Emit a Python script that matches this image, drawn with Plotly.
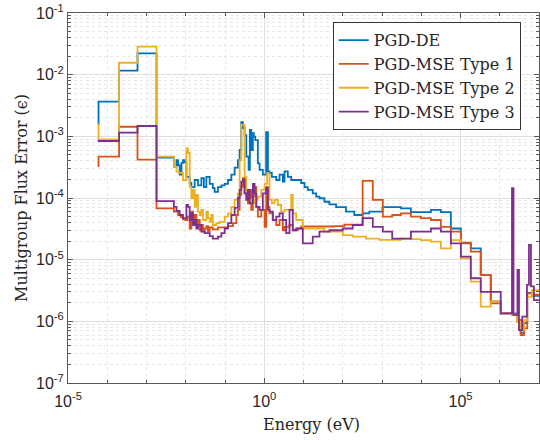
import plotly.graph_objects as go

# Multigroup flux error per energy group, drawn as stairs (left bin edges + values).
energy_de = [5.7e-5, 6.0e-5, 2.0e-4, 5.9e-4, 1.8e-3, 5.0e-3, 5.8e-3, 6.4e-3, 7.0e-3, 7.8e-3,
             8.5e-3, 9.4e-3, 1.04e-2, 1.26e-2, 1.39e-2, 1.69e-2, 2.05e-2, 2.5e-2, 2.9e-2, 3.35e-2,
             4.07e-2, 4.9e-2, 5.45e-2, 6.6e-2, 8.1e-2, 9.8e-2, 0.119, 0.145, 0.176, 0.213,
             0.236, 0.26, 0.286, 0.316, 0.349, 0.40, 0.43, 0.467, 0.513, 0.544,
             0.59, 0.687, 0.76, 0.92, 1.12, 1.24, 1.36, 1.56, 2.02, 2.45,
             2.97, 3.28, 3.98, 4.86, 8.72, 10.6, 12.8, 17.2, 21, 25.5,
             34.1, 45.7, 67.6, 121, 197, 321, 475, 1.03e3, 3.04e3, 5.45e3,
             1.76e4, 3.16e4, 5.67e4, 1.02e5, 1.83e5, 3.28e5, 5.9e5, 1.06e6, 2.75e6, 3.41e6,
             4.14e6, 5.02e6, 6.61e6, 1.0e7]
error_de = [1.58e-3, 3.65e-3, 1.16e-2, 2.22e-2, 4.5e-4, 3.2e-4, 4.1e-4, 3.4e-4, 2.4e-4, 3.7e-4,
            4.1e-4, 3.8e-4, 2.2e-4, 1.75e-4, 1.5e-4, 1.96e-4, 1.6e-4, 2.1e-4, 1.5e-4, 2.2e-4,
            1.7e-4, 1.45e-4, 1.26e-4, 1.5e-4, 1.6e-4, 1.7e-4, 1.96e-4, 2.4e-4, 3.1e-4, 4.1e-4,
            6.0e-4, 1.7e-3, 1.36e-3, 1.05e-3, 4.7e-4, 2.85e-4, 1.27e-3, 6.0e-4, 1.13e-3, 9.9e-4,
            8.7e-4, 3.65e-4, 2.85e-4, 2.4e-4, 1.17e-3, 2.7e-4, 2.55e-4, 2.2e-4, 1.96e-4, 2.4e-4,
            1.84e-4, 2.7e-4, 2.2e-4, 1.96e-4, 1.75e-4, 1.5e-4, 1.35e-4, 1.19e-4, 1.05e-4, 9.9e-5,
            8.7e-5, 7.9e-5, 7.1e-5, 6.0e-5, 5.3e-5, 5.65e-5, 6.0e-5, 7.1e-5, 6.8e-5, 5.9e-5,
            6.4e-5, 5.9e-5, 3.2e-5, 1.84e-5, 1.53e-5, 5.6e-6, 2.1e-6, 1.35e-6, 1.05e-6, 6.5e-7,
            9.4e-7, 2.9e-6, 2.6e-6]

energy_t1 = [5.7e-5, 6.0e-5, 2.0e-4, 5.9e-4, 1.8e-3, 5.0e-3, 6.4e-3, 7.45e-3, 8.5e-3, 9.8e-3,
             1.1e-2, 1.26e-2, 1.39e-2, 1.53e-2, 1.69e-2, 1.87e-2, 2.05e-2, 2.27e-2, 2.5e-2, 2.75e-2,
             3.04e-2, 3.35e-2, 3.68e-2, 4.07e-2, 4.9e-2, 6.6e-2, 0.119, 0.159, 0.194, 0.213,
             0.236, 0.26, 0.286, 0.316, 0.383, 0.423, 0.467, 0.513, 0.567, 0.626,
             0.687, 0.839, 1.02, 1.12, 1.24, 1.36, 1.65, 2.02, 2.45, 2.97,
             3.28, 4.4, 5.33, 7.15, 8.72, 61.2, 110, 321, 583, 1.05e3,
             1.82e3, 3.04e3, 5.45e3, 9.8e3, 1.76e4, 3.16e4, 5.67e4, 1.02e5, 1.83e5, 3.28e5,
             5.9e5, 1.06e6, 2.05e6, 2.75e6, 3.41e6, 4.14e6, 5.02e6, 6.61e6, 1.0e7]
error_t1 = [3.3e-4, 4.7e-4, 1.43e-3, 4.2e-4, 6.8e-5, 6.0e-5, 5.3e-5, 4.9e-5, 4.5e-5, 4.4e-5,
            5.0e-5, 3.2e-5, 6.0e-5, 3.9e-5, 5.3e-5, 3.35e-5, 4.4e-5, 3.0e-5, 3.65e-5, 2.85e-5,
            3.2e-5, 3.5e-5, 2.85e-5, 3.35e-5, 3.1e-5, 3.35e-5, 3.5e-5, 3.9e-5, 5.3e-5, 6.4e-5,
            1.12e-4, 1.52e-4, 2.1e-4, 1.19e-4, 8.2e-5, 1.35e-4, 6.4e-5, 1.05e-4, 1.52e-4, 7.2e-5,
            5.0e-5, 6.4e-5, 3.4e-5, 1.52e-4, 7.2e-5, 5.65e-5, 4.4e-5, 3.65e-5, 4.4e-5, 3.0e-5,
            3.4e-5, 3.65e-5, 3.0e-5, 3.2e-5, 3.45e-5, 3.5e-5, 3.7e-5, 1.89e-4, 9.3e-5, 5.0e-5,
            5.3e-5, 5.65e-5, 5.0e-5, 4.7e-5, 4.4e-5, 3.4e-5, 2.85e-5, 1.88e-5, 1.35e-5, 5.6e-6,
            1.96e-6, 1.35e-6, 1.27e-6, 1.05e-6, 6.0e-7, 7.7e-7, 2.85e-6, 2.7e-6]

energy_t2 = [5.7e-5, 6.0e-5, 2.0e-4, 5.9e-4, 1.8e-3, 5.0e-3, 5.8e-3, 6.6e-3, 8.5e-3, 1.04e-2,
             1.14e-2, 1.26e-2, 1.39e-2, 1.53e-2, 1.69e-2, 1.87e-2, 2.05e-2, 2.27e-2, 2.5e-2, 2.75e-2,
             3.35e-2, 3.68e-2, 4.07e-2, 4.5e-2, 4.9e-2, 6.0e-2, 7.3e-2, 9.8e-2, 0.119, 0.145,
             0.176, 0.213, 0.236, 0.26, 0.316, 0.349, 0.467, 0.567, 0.687, 0.839,
             1.02, 1.18, 1.36, 1.56, 1.83, 2.22, 2.7, 3.28, 4.86, 5.33,
             6.5, 7.9, 9.6, 34.1, 100, 179, 392, 853, 3.04e3, 5.45e3,
             9.8e3, 1.76e4, 3.16e4, 5.67e4, 1.02e5, 1.83e5, 3.28e5, 5.9e5, 1.06e6, 2.05e6,
             2.75e6, 3.41e6, 4.14e6, 5.02e6, 6.61e6, 1.0e7]
error_t2 = [1.58e-3, 8.95e-4, 1.56e-2, 2.84e-2, 4.7e-4, 3.2e-4, 2.7e-4, 2.55e-4, 1.96e-4, 6.4e-4,
            5.4e-4, 1.52e-4, 9.9e-5, 1.35e-4, 7.2e-5, 1.12e-4, 6.0e-5, 5.3e-5, 6.4e-5, 4.4e-5,
            6.0e-5, 4.7e-5, 4.1e-5, 5.3e-5, 3.65e-5, 3.9e-5, 4.1e-5, 5.0e-5, 5.65e-5, 7.2e-5,
            9.3e-5, 1.19e-4, 4.1e-4, 1.53e-3, 2.2e-4, 9.3e-5, 8.2e-5, 9.3e-5, 1.05e-4, 1.35e-4,
            1.7e-4, 2.5e-4, 9.3e-5, 8.2e-5, 9.3e-5, 7.7e-5, 6.0e-5, 6.4e-5, 1.12e-4, 5.65e-5,
            4.4e-5, 4.4e-5, 3.2e-5, 2.85e-5, 2.5e-5, 2.36e-5, 2.2e-5, 2.1e-5, 2.2e-5, 2.15e-5,
            2.08e-5, 1.96e-5, 1.53e-5, 2.08e-5, 1.05e-5, 4.4e-6, 1.73e-6, 2.1e-6, 1.35e-6, 1.3e-6,
            9.75e-7, 7.2e-7, 1.05e-6, 2.5e-6, 3.2e-6]

energy_t3 = [5.7e-5, 6.0e-5, 2.0e-4, 5.9e-4, 1.8e-3, 5.0e-3, 5.8e-3, 7.0e-3, 8.5e-3, 1.04e-2,
             1.14e-2, 1.26e-2, 1.39e-2, 1.53e-2, 1.69e-2, 1.87e-2, 2.05e-2, 2.5e-2, 3.04e-2, 4.07e-2,
             4.9e-2, 6.6e-2, 8.1e-2, 9.8e-2, 0.119, 0.145, 0.176, 0.213, 0.236, 0.26,
             0.286, 0.316, 0.349, 0.383, 0.423, 0.513, 0.567, 0.626, 0.76, 0.92,
             1.12, 1.24, 1.36, 1.65, 2.02, 2.45, 2.97, 3.62, 4.4, 5.33,
             6.5, 9.6, 17.2, 25.5, 45.7, 100, 179, 321, 583, 1.05e3,
             1.82e3, 5.45e3, 1.76e4, 3.16e4, 5.67e4, 1.02e5, 1.83e5, 3.28e5, 5.9e5, 1.06e6,
             2.05e6, 2.24e6, 2.83e6, 3.09e6, 3.74e6, 4.93e6, 5.55e6, 6.24e6, 7.43e6, 1.0e7]
error_t3 = [8.4e-4, 8.4e-4, 1.15e-3, 1.47e-3, 8.9e-5, 7.2e-5, 6.2e-5, 5.3e-5, 4.7e-5, 7.7e-5,
            7.2e-5, 4.4e-5, 5.65e-5, 3.65e-5, 4.4e-5, 3.2e-5, 3.65e-5, 2.85e-5, 2.7e-5, 2.4e-5,
            2.2e-5, 2.36e-5, 2.7e-5, 3.2e-5, 3.9e-5, 5.3e-5, 6.9e-5, 1.0e-4, 1.35e-4, 1.84e-4,
            2.0e-4, 1.19e-4, 9.3e-5, 1.35e-4, 8.2e-5, 1.7e-4, 1.19e-4, 7.2e-5, 6.4e-5, 1.19e-4,
            1.44e-4, 6.4e-5, 6.0e-5, 4.4e-5, 5.0e-5, 5.65e-5, 4.4e-5, 2.7e-5, 6.4e-5, 3.0e-5,
            3.2e-5, 1.84e-5, 2.36e-5, 2.85e-5, 3.0e-5, 3.2e-5, 3.65e-5, 4.7e-5, 3.4e-5, 2.85e-5,
            2.2e-5, 2.85e-5, 3.2e-5, 2.85e-5, 1.84e-5, 1.12e-5, 5.0e-6, 3.0e-6, 3.0e-6, 1.35e-6,
            1.44e-4, 1.27e-6, 6.8e-6, 7.2e-7, 1.19e-6, 3.9e-6, 1.73e-5, 3.7e-6, 2.2e-6]

series_names = ["PGD-DE", "PGD-MSE Type 1", "PGD-MSE Type 2", "PGD-MSE Type 3"]
series_colors = ["#0072BD", "#D95319", "#EDB120", "#7E2F8E"]

x_tick_vals = [1e-5, 1e0, 1e5]
x_tick_text = ["10<sup>-5</sup>", "10<sup>0</sup>", "10<sup>5</sup>"]
y_tick_vals = [1e-7, 1e-6, 1e-5, 1e-4, 1e-3, 1e-2, 1e-1]
y_tick_text = ["10<sup>-7</sup>", "10<sup>-6</sup>", "10<sup>-5</sup>", "10<sup>-4</sup>",
               "10<sup>-3</sup>", "10<sup>-2</sup>", "10<sup>-1</sup>"]
x_minor_vals = [1e-4, 1e-3, 1e-2, 1e-1, 1e1, 1e2, 1e3, 1e4, 1e6]
y_minor_vals = [m * 10.0 ** p for p in range(-7, -1) for m in range(2, 10)]

fig = go.Figure()
series = [(energy_de, error_de), (energy_t1, error_t1), (energy_t2, error_t2), (energy_t3, error_t3)]
for (edges, vals), name, color in zip(series, series_names, series_colors):
    assert len(edges) == len(vals) + 1
    fig.add_trace(go.Scatter(
        x=edges, y=list(vals) + [vals[-1]],
        mode="lines", line=dict(color=color, width=1.8, shape="hv"),
        name=name,
    ))

axis_color = "#595959"
tick_font = dict(family="Liberation Sans, Arial, sans-serif", size=16, color="#262626")
label_font = dict(family="DejaVu Serif, serif", size=16, color="#262626")

fig.update_layout(
    width=540, height=440,
    margin=dict(l=68, r=1, t=13, b=57),
    paper_bgcolor="white", plot_bgcolor="white",
    showlegend=True,
    legend=dict(
        x=0.562, y=0.975, xanchor="left", yanchor="top",
        bgcolor="white", bordercolor="#333333", borderwidth=1,
        font=dict(family="DejaVu Serif, serif", size=16, color="#262626"),
        tracegroupgap=0,
    ),
    xaxis=dict(
        type="log", range=[-5, 7],
        tickmode="array", tickvals=x_tick_vals, ticktext=x_tick_text,
        tickfont=tick_font, ticks="inside", ticklen=5, tickcolor=axis_color,
        ticklabelstandoff=4,
        showline=True, linecolor=axis_color, linewidth=1, mirror="ticks",
        showgrid=True, gridcolor="#dedede", gridwidth=1, zeroline=False,
        minor=dict(tickmode="array", tickvals=x_minor_vals, ticks="inside", ticklen=3,
                   tickcolor=axis_color, showgrid=True, gridcolor="#e6e6e6", griddash="dot"),
    ),
    yaxis=dict(
        type="log", range=[-7, -1],
        tickmode="array", tickvals=y_tick_vals, ticktext=y_tick_text,
        tickfont=tick_font, ticks="inside", ticklen=5, tickcolor=axis_color,
        showline=True, linecolor=axis_color, linewidth=1, mirror="ticks",
        showgrid=True, gridcolor="#dedede", gridwidth=1, zeroline=False,
        minor=dict(tickmode="array", tickvals=y_minor_vals, ticks="inside", ticklen=3,
                   tickcolor=axis_color, showgrid=True, gridcolor="#e6e6e6", griddash="dot"),
        title=dict(text="Multigroup Flux Error (ϵ)", font=label_font, standoff=4),
    ),
    annotations=[dict(
        text="Energy (eV)", xref="paper", yref="paper", x=0.516, y=-0.113,
        xanchor="center", yanchor="middle", showarrow=False, font=label_font,
    )],
)

fig.write_html("out.html")
